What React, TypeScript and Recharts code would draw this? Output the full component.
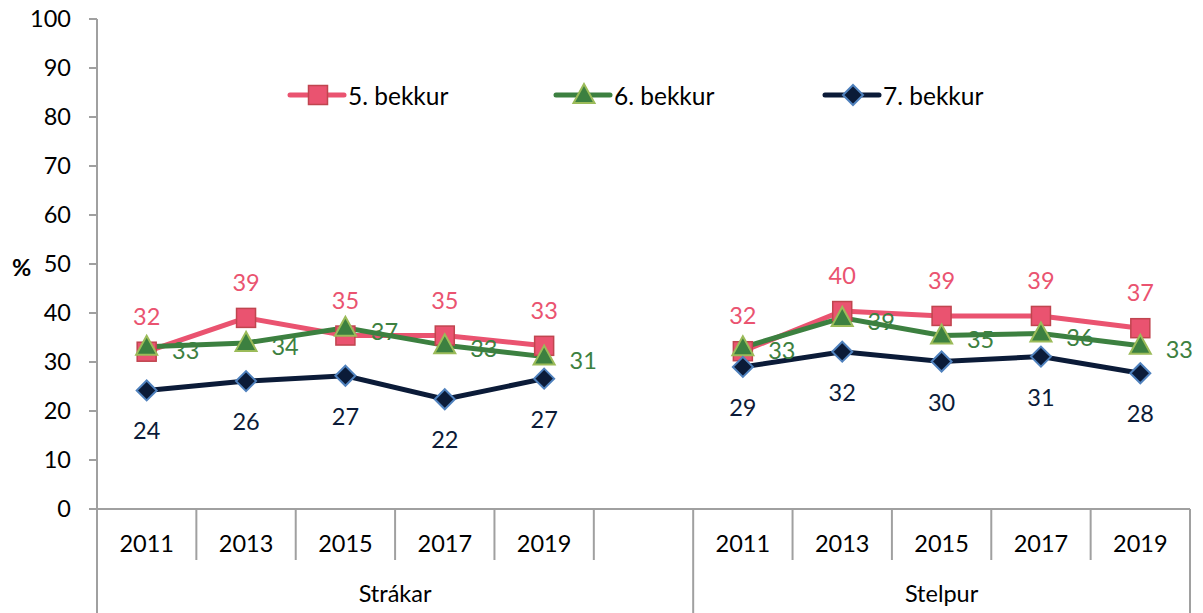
import React from 'react';
import { LineChart, Line, XAxis, YAxis, Legend, LabelList, Label } from 'recharts';

const years = ['2011', '2013', '2015', '2017', '2019', '', '2011', '2013', '2015', '2017', '2019'];
const groups = ['Strákar', 'Stelpur'];
const seriesNames = ['5. bekkur', '6. bekkur', '7. bekkur'];
const bekkur5 = [32.1, 39.0, 35.4, 35.4, 33.3, null, 32.2, 40.4, 39.4, 39.4, 36.9];
const bekkur6 = [33.1, 33.9, 37.0, 33.4, 31.1, null, 33.0, 39.0, 35.4, 35.8, 33.3];
const bekkur7 = [24.2, 26.1, 27.2, 22.4, 26.6, null, 29.0, 32.1, 30.1, 31.1, 27.7];
const yTicks = [0, 10, 20, 30, 40, 50, 60, 70, 80, 90, 100];

const data = years.map((y, i) => ({
  key: `${i < 6 ? groups[0] : groups[1]}-${y || 'gap'}`,
  year: y,
  b5: bekkur5[i],
  b6: bekkur6[i],
  b7: bekkur7[i],
}));

const W = 1203;
const H = 613;
const M = { top: 19, right: 13, left: 0, bottom: 0 };
const YW = 97;
const XH = 104;
const SLOT = (W - YW - M.right) / years.length;
const FONT = 'Lato, "Open Sans", sans-serif';
const FS = 23.5;
const LFS = 24.5;

const PINK = '#EA5370';
const PINK_EDGE = '#C0454F';
const GREEN = '#3C8040';
const GREEN_EDGE = '#9BBB59';
const NAVY = '#0B1B38';
const NAVY_EDGE = '#4F81BD';
const AXIS = '#A0A0A0';

const Square = ({ cx, cy }: any) => (
  <rect x={cx - 9.5} y={cy - 9.5} width={19} height={19} fill={PINK} stroke={PINK_EDGE} strokeWidth={1.5} />
);
const Tri = ({ cx, cy }: any) => (
  <polygon points={`${cx},${cy - 11} ${cx - 10.5},${cy + 8} ${cx + 10.5},${cy + 8}`} fill={GREEN} stroke={GREEN_EDGE} strokeWidth={2} />
);
const Dia = ({ cx, cy }: any) => (
  <polygon points={`${cx},${cy - 10} ${cx + 10},${cy} ${cx},${cy + 10} ${cx - 10},${cy}`} fill={NAVY} stroke={NAVY_EDGE} strokeWidth={2} />
);

const makeDot = (Shape: any) => (props: any) => {
  const { cx, cy, value, index } = props;
  if (value == null || cx == null || cy == null || isNaN(cy)) return <g key={`d-${index}`} />;
  return <g key={`d-${index}`}><Shape cx={cx} cy={cy} /></g>;
};

const makeLabel = (color: string, dx: number, dy: number) => (props: any) => {
  const { x, y, value, index } = props;
  if (value == null || x == null || y == null) return null;
  return (
    <text key={`l-${index}`} x={x + dx} y={y + dy} fill={color} fontSize={FS} fontFamily={FONT} textAnchor="middle" dominantBaseline="central">
      {Math.round(value)}
    </text>
  );
};

const XTick = (props: any) => {
  const { x, index } = props;
  const left = x - SLOT / 2;
  const long = index === 0 || index === 6;
  const base = H - XH;
  return (
    <g>
      <line x1={left} y1={base} x2={left} y2={long ? H : base + 51} stroke={AXIS} strokeWidth={2} />
      {index === years.length - 1 && (
        <line x1={x + SLOT / 2} y1={base} x2={x + SLOT / 2} y2={H} stroke={AXIS} strokeWidth={2} />
      )}
      <text x={x} y={base + 34} textAnchor="middle" dominantBaseline="central" fontSize={FS} fontFamily={FONT} fill="#000">
        {years[index]}
      </text>
      {index === 0 && (
        <text x={left + 3 * SLOT} y={base + 84} textAnchor="middle" dominantBaseline="central" fontSize={FS} fontFamily={FONT} fill="#000">
          {groups[0]}
        </text>
      )}
      {index === 6 && (
        <text x={left + 2.5 * SLOT} y={base + 84} textAnchor="middle" dominantBaseline="central" fontSize={FS} fontFamily={FONT} fill="#000">
          {groups[1]}
        </text>
      )}
    </g>
  );
};

const legendItems = [
  { name: seriesNames[0], color: PINK, Shape: Square, x: 290 },
  { name: seriesNames[1], color: GREEN, Shape: Tri, x: 556 },
  { name: seriesNames[2], color: NAVY, Shape: Dia, x: 825 },
];

const LegendContent = () => (
  <svg width={W} height={30} style={{ display: 'block' }}>
    {legendItems.map((it) => (
      <g key={it.name}>
        <line x1={it.x} y1={15} x2={it.x + 54} y2={15} stroke={it.color} strokeWidth={5} strokeLinecap="round" />
        <it.Shape cx={it.x + 28} cy={15} />
        <text x={it.x + 58} y={15} dominantBaseline="central" fontSize={LFS} fontFamily={FONT} fill="#000">
          {it.name}
        </text>
      </g>
    ))}
  </svg>
);

export default function App() {
  return (
    <div style={{ position: 'absolute', left: 0, top: 0, width: W, height: H, fontFamily: FONT, background: '#fff' }}>
      <LineChart width={W} height={H} data={data} margin={M}>
        <XAxis
          dataKey="key"
          height={XH}
          interval={0}
          padding={{ left: SLOT / 2, right: SLOT / 2 }}
          tickLine={false}
          tickSize={0}
          tickMargin={0}
          axisLine={{ stroke: AXIS, strokeWidth: 2 }}
          tick={<XTick />}
        />
        <YAxis
          width={YW}
          domain={[0, 100]}
          ticks={yTicks}
          interval={0}
          tickSize={8}
          tickMargin={18}
          axisLine={{ stroke: AXIS, strokeWidth: 2 }}
          tickLine={{ stroke: AXIS, strokeWidth: 2 }}
          tick={{ fill: '#000', fontSize: FS, fontFamily: FONT }}
        >
          <Label
            value="%"
            position="insideLeft"
            offset={12}
            dy={4}
            style={{ fontWeight: 'bold', fontSize: FS, fill: '#000', fontFamily: FONT }}
          />
        </YAxis>
        <Legend
          verticalAlign="middle"
          align="center"
          layout="horizontal"
          wrapperStyle={{ position: 'absolute', top: 80, left: 0, width: W }}
          content={<LegendContent />}
        />
        <Line dataKey="b5" name={seriesNames[0]} stroke={PINK} strokeWidth={5} dot={makeDot(Square)} activeDot={false} isAnimationActive={false} connectNulls={false}>
          <LabelList dataKey="b5" content={makeLabel(PINK, 0, -36)} />
        </Line>
        <Line dataKey="b6" name={seriesNames[1]} stroke={GREEN} strokeWidth={5} dot={makeDot(Tri)} activeDot={false} isAnimationActive={false} connectNulls={false}>
          <LabelList dataKey="b6" content={makeLabel(GREEN, 39, 3)} />
        </Line>
        <Line dataKey="b7" name={seriesNames[2]} stroke={NAVY} strokeWidth={5} dot={makeDot(Dia)} activeDot={false} isAnimationActive={false} connectNulls={false}>
          <LabelList dataKey="b7" content={makeLabel(NAVY, 0, 40)} />
        </Line>
      </LineChart>
    </div>
  );
}
